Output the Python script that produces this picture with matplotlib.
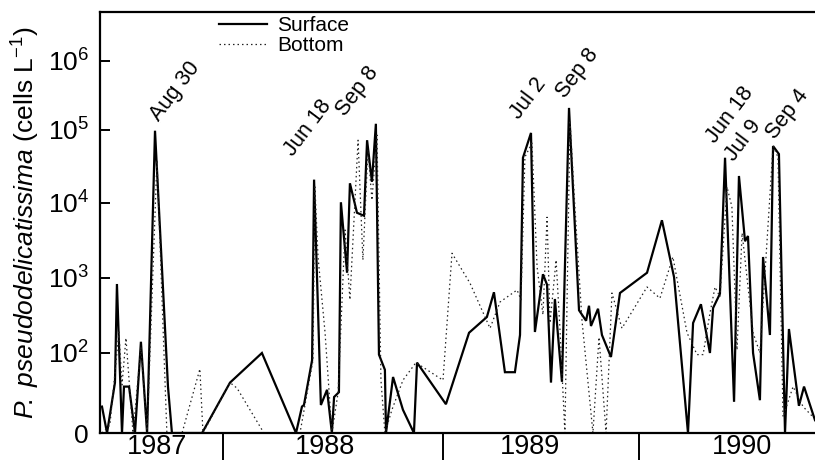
"""Pseudo-nitzschia counts, surface vs bottom, 1987-1990."""

import matplotlib

matplotlib.use("Agg")
import matplotlib.pyplot as plt  # noqa: E402
import numpy as np  # noqa: E402

plt.rcParams["font.family"] = ["Liberation Sans", "DejaVu Sans"]
plt.rcParams["mathtext.fontset"] = "custom"
plt.rcParams["mathtext.rm"] = "Liberation Sans"
plt.rcParams["mathtext.it"] = "Liberation Sans:italic"

# --- data (x = decimal year, y = log10 cells/L; 1.0 is the "0" line) ---

surface_x = [
    1987.450, 1987.473, 1987.509, 1987.518, 1987.541, 1987.550, 1987.573,
    1987.600, 1987.627, 1987.655, 1987.691, 1987.750, 1987.768, 1987.905,
    1988.032, 1988.177, 1988.332, 1988.359, 1988.368, 1988.405, 1988.414,
    1988.445, 1988.473, 1988.495, 1988.505, 1988.527, 1988.536, 1988.564,
    1988.577, 1988.609, 1988.641, 1988.655, 1988.677, 1988.695, 1988.709,
    1988.736, 1988.741, 1988.773, 1988.818, 1988.868, 1988.882,
    1989.015, 1989.133, 1989.224, 1989.260, 1989.316, 1989.367, 1989.393,
    1989.408, 1989.449, 1989.469, 1989.510, 1989.531, 1989.551, 1989.571,
    1989.607, 1989.643, 1989.694, 1989.730, 1989.745, 1989.755, 1989.791,
    1989.811, 1989.857, 1989.903,
    1990.041, 1990.117, 1990.179, 1990.250, 1990.276, 1990.316, 1990.362,
    1990.378, 1990.413, 1990.439, 1990.485, 1990.510, 1990.541, 1990.556,
    1990.582, 1990.617, 1990.633, 1990.668, 1990.684, 1990.714, 1990.745,
    1990.765, 1990.816, 1990.842, 1990.898,
]
surface_y = [
    1.33, 1.00, 1.63, 2.92, 1.00, 1.58, 1.58,
    1.00, 2.15, 1.00, 4.99, 1.58, 1.00, 1.00,
    1.63, 2.00, 1.00, 1.33, 1.35, 1.91, 4.32,
    1.35, 1.54, 1.00, 1.45, 1.51, 4.01, 3.07,
    4.27, 3.87, 3.83, 4.86, 4.29, 5.09, 1.98,
    1.79, 1.00, 1.70, 1.29, 1.00, 1.88,
    1.36, 2.27, 2.48, 2.81, 1.76, 1.76, 2.24,
    4.62, 4.96, 2.28, 3.05, 2.91, 1.63, 2.72,
    1.64, 5.32, 2.57, 2.43, 2.63, 2.36, 2.59,
    2.24, 1.95, 2.80,
    3.07, 3.77, 3.01, 1.00, 2.40, 2.65, 2.00,
    2.60, 2.79, 4.62, 1.39, 4.37, 3.49, 3.56,
    2.00, 1.41, 3.28, 2.24, 4.78, 4.67, 1.00,
    2.32, 1.34, 1.58, 1.16,
]

bottom_x = [
    1987.450, 1987.486, 1987.527, 1987.541, 1987.559, 1987.591, 1987.627,
    1987.655, 1987.700, 1987.745, 1987.814, 1987.895, 1987.909,
    1988.032, 1988.064, 1988.186, 1988.350, 1988.409, 1988.418, 1988.432,
    1988.464, 1988.495, 1988.523, 1988.555, 1988.577, 1988.614, 1988.636,
    1988.659, 1988.677, 1988.700, 1988.718, 1988.736, 1988.768, 1988.818,
    1988.877,
    1989.000, 1989.046, 1989.138, 1989.240, 1989.291, 1989.378, 1989.398,
    1989.418, 1989.454, 1989.480, 1989.510, 1989.531, 1989.546, 1989.577,
    1989.597, 1989.622, 1989.648, 1989.673, 1989.709, 1989.765, 1989.796,
    1989.832, 1989.862, 1989.913,
    1990.041, 1990.107, 1990.173, 1990.245, 1990.296, 1990.327, 1990.362,
    1990.388, 1990.413, 1990.449, 1990.474, 1990.500, 1990.526, 1990.582,
    1990.617, 1990.684, 1990.709, 1990.735, 1990.786, 1990.837, 1990.888,
]
bottom_y = [
    1.00, 1.10, 2.28, 1.60, 2.20, 1.00, 2.08,
    1.00, 4.59, 1.00, 1.00, 1.80, 1.00,
    1.63, 1.56, 1.00, 1.00, 1.91, 4.22, 3.28,
    2.27, 1.00, 1.50, 3.64, 2.71, 4.86, 3.24,
    4.73, 4.04, 4.93, 1.66, 1.00, 1.29, 1.66,
    1.88,
    1.66, 3.33, 2.93, 2.33, 2.68, 2.84, 2.71,
    4.63, 4.82, 3.15, 2.51, 3.81, 2.40, 3.24,
    2.31, 1.00, 5.14, 3.95, 2.44, 1.00, 2.21,
    1.00, 2.80, 2.33,
    2.88, 2.73, 3.28, 2.27, 1.98, 1.98, 2.53,
    2.88, 2.75, 4.22, 3.95, 2.04, 3.60, 2.27,
    2.00, 4.78, 4.63, 1.20, 1.58, 1.33, 1.20,
]

# bloom peaks on the surface series: (label, index into surface arrays)
peak_labels = ["Aug 30", "Jun 18", "Sep 8", "Jul 2", "Sep 8",
               "Jun 18", "Jul 9", "Sep 4"]
peak_index = [10, 20, 33, 49, 56, 74, 76, 83]

years = ["1987", "1988", "1989", "1990"]
year_bounds = [1988, 1989, 1990]

y_ticks = [1, 2, 3, 4, 5, 6]
y_ticklabels = ["0", "$10^2$", "$10^3$", "$10^4$", "$10^5$", "$10^6$"]

# --- layout / scales ---------------------------------------------------

# the printed figure has slightly uneven year widths and decade heights
X_KNOTS = [1986, 1987, 1988, 1989, 1990, 1991, 1992]
X_POS = [-217, 3, 223, 443, 639, 835, 1031]
Y_KNOTS = [0, 1, 2, 3, 4, 5, 6, 7, 8]
Y_POS = [-80, 0, 80, 155, 230, 303, 372, 441, 510]

# label offsets (points) from each peak, and year label centres
peak_offsets = [(6, 4), (-12, 14), (-19, 3), (-6, 7), (0, 4),
                (-4, 8), (-1, 8), (4, 2)]
year_label_x = [1987.70, 1988.464, 1989.444, 1990.526]


def _fwd_x(v):
    return np.interp(v, X_KNOTS, X_POS)


def _inv_x(p):
    return np.interp(p, X_POS, X_KNOTS)


def _fwd_y(v):
    return np.interp(v, Y_KNOTS, Y_POS)


def _inv_y(p):
    return np.interp(p, Y_POS, Y_KNOTS)


fig = plt.figure(figsize=(8.15, 4.65), dpi=100)
ax = fig.add_axes([100 / 815, 1 - 433 / 465, 1 - 100 / 815, 421 / 465])
ax.set_xscale("function", functions=(_fwd_x, _inv_x))
ax.set_yscale("function", functions=(_fwd_y, _inv_y))

ax.plot(surface_x, surface_y, color="k", linewidth=1.6,
        solid_joinstyle="miter", label="Surface")
ax.plot(bottom_x, bottom_y, color="#222222", linewidth=0.9,
        dashes=(1.2, 2.4), label="Bottom")

for text, idx, off in zip(peak_labels, peak_index, peak_offsets):
    ax.annotate(text, xy=(surface_x[idx], surface_y[idx]), xytext=off,
                textcoords="offset points", rotation=53,
                rotation_mode="anchor", ha="left", va="bottom",
                fontsize=15.5)

ax.set_xlim(1987.441, 1990.898)
ax.set_ylim(1, 6.71)

ax.set_yticks(y_ticks)
ax.set_yticklabels(y_ticklabels)
ax.tick_params(axis="y", direction="in", length=7, width=1.4,
               labelsize=19, pad=8)

ax.set_xticks(year_bounds)
ax.set_xticklabels([])
ax.tick_params(axis="x", which="major", direction="out", length=19.5,
               width=1.4)
ax.set_xticks(year_label_x, minor=True)
ax.set_xticklabels(years, minor=True)
ax.tick_params(axis="x", which="minor", length=0, labelsize=19.5, pad=1)

ax.set_ylabel(r"$P\!.\ pseudodelicatissima$ (cells L$^{-1}$)", fontsize=19,
              labelpad=4)

ax.spines["right"].set_visible(False)
for side in ("left", "bottom", "top"):
    ax.spines[side].set_linewidth(1.6)

ax.legend(loc="upper left", bbox_to_anchor=(219 / 815, 1 - 16 / 465),
          bbox_transform=fig.transFigure, borderaxespad=0, borderpad=0,
          frameon=False, fontsize=15, handlelength=2.3,
          handletextpad=0.5, labelspacing=0.05)

fig.savefig("out.png", dpi=100)
plt.close(fig)
